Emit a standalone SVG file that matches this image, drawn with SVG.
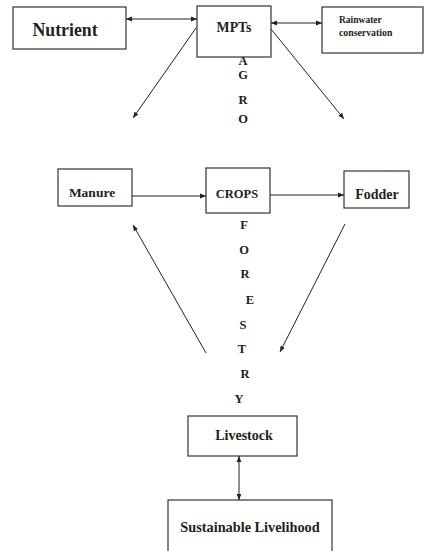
<svg xmlns="http://www.w3.org/2000/svg" width="424" height="551" viewBox="0 0 424 551">
<defs>
<style>
.box{fill:#fff;stroke:#333;stroke-width:1.2}
.t{font-family:"Liberation Serif","DejaVu Serif",serif;font-weight:bold;fill:#222;text-anchor:middle}
.c{stroke:#222;stroke-width:1;fill:none}
.l{font-family:"Liberation Serif","DejaVu Serif",serif;font-weight:bold;fill:#222;font-size:12.5px;text-anchor:middle}
</style>
<marker id="ah" viewBox="0 0 10 10" refX="10" refY="5" markerWidth="6" markerHeight="6" orient="auto-start-reverse" markerUnits="userSpaceOnUse">
<path d="M0,1 L10,5 L0,9 z" fill="#222"/>
</marker>
</defs>
<rect width="424" height="551" fill="#fff"/>
<g id="nutrient"><rect class="box" x="13" y="7" width="113" height="42"/><text class="t" x="65" y="36" font-size="17.8">Nutrient</text></g>
<g id="mpts"><rect class="box" x="197" y="6" width="74" height="51"/><text class="t" x="234" y="32" font-size="13.8">MPTs</text></g>
<g id="rainwater"><rect class="box" x="322" y="7" width="101" height="46"/><text class="t" x="339" y="23" font-size="9.5" style="text-anchor:start">Rainwater</text><text class="t" x="339" y="36" font-size="9.8" style="text-anchor:start">conservation</text></g>
<g id="manure"><rect class="box" x="58" y="169" width="74" height="37"/><text class="t" x="92" y="197" font-size="13.5">Manure</text></g>
<g id="crops"><rect class="box" x="206" y="168" width="64" height="45"/><text class="t" x="237" y="198" font-size="12.5">CROPS</text></g>
<g id="fodder"><rect class="box" x="344" y="171" width="65" height="37"/><text class="t" x="377" y="199" font-size="14">Fodder</text></g>
<g id="livestock"><rect class="box" x="188" y="416" width="109" height="40"/><text class="t" x="244" y="440" font-size="14">Livestock</text></g>
<g id="livelihood"><rect class="box" x="168" y="500" width="164" height="60"/><text class="t" x="250" y="532" font-size="14.3">Sustainable Livelihood</text></g>
<g id="label-agroforestry">
<text class="l" x="243" y="65">A</text>
<text class="l" x="243" y="79">G</text>
<text class="l" x="243" y="104">R</text>
<text class="l" x="243" y="123">O</text>
<text class="l" x="244" y="229">F</text>
<text class="l" x="244" y="254">O</text>
<text class="l" x="245" y="278">R</text>
<text class="l" x="250" y="304">E</text>
<text class="l" x="243" y="329">S</text>
<text class="l" x="242" y="353">T</text>
<text class="l" x="245" y="378">R</text>
<text class="l" x="239" y="403">Y</text>
</g>
<g id="connectors">
<line class="c" x1="126" y1="19" x2="197" y2="19" marker-start="url(#ah)" marker-end="url(#ah)"/>
<line class="c" x1="271" y1="23" x2="322" y2="23" marker-start="url(#ah)" marker-end="url(#ah)"/>
<line class="c" x1="196" y1="28" x2="133" y2="118" marker-end="url(#ah)"/>
<line class="c" x1="271" y1="29" x2="344" y2="119" marker-end="url(#ah)"/>
<line class="c" x1="132" y1="196" x2="206" y2="196" marker-end="url(#ah)"/>
<line class="c" x1="270" y1="195" x2="344" y2="195" marker-end="url(#ah)"/>
<line class="c" x1="206" y1="353" x2="133" y2="225" marker-end="url(#ah)"/>
<line class="c" x1="345" y1="224" x2="280" y2="352" marker-end="url(#ah)"/>
<line class="c" x1="239" y1="456" x2="239" y2="500" marker-start="url(#ah)" marker-end="url(#ah)"/>
</g>
</svg>
